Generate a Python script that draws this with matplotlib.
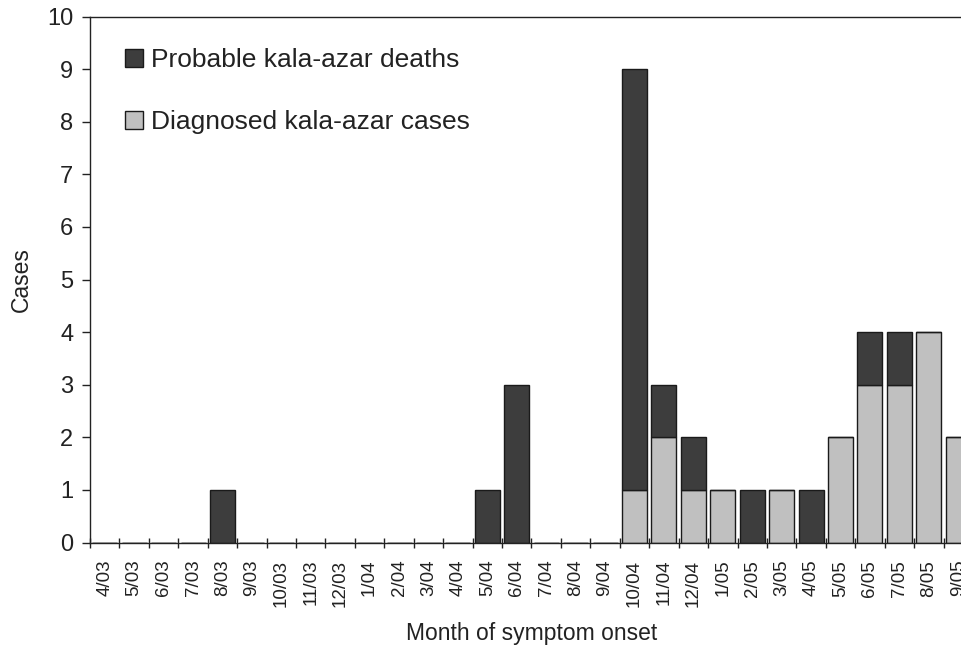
import matplotlib
matplotlib.use("Agg")
import matplotlib.pyplot as plt
from matplotlib.patches import Patch
import numpy as np

plt.rcParams['font.family'] = ['Liberation Sans', 'DejaVu Sans']

months = ["4/03", "5/03", "6/03", "7/03", "8/03", "9/03", "10/03", "11/03", "12/03",
          "1/04", "2/04", "3/04", "4/04", "5/04", "6/04", "7/04", "8/04", "9/04",
          "10/04", "11/04", "12/04", "1/05", "2/05", "3/05", "4/05", "5/05", "6/05",
          "7/05", "8/05", "9/05"]
diagnosed = [0, 0, 0, 0, 0, 0, 0, 0, 0, 0, 0, 0, 0, 0, 0, 0, 0, 0,
             1, 2, 1, 1, 0, 1, 0, 2, 3, 3, 4, 2]
deaths = [0, 0, 0, 0, 1, 0, 0, 0, 0, 0, 0, 0, 0, 1, 3, 0, 0, 0,
          8, 1, 1, 0, 1, 0, 1, 0, 1, 1, 0, 0]

dark = "#3d3d3d"
light = "#c0c0c0"
edge = "#1a1a1a"

fig = plt.figure(figsize=(9.62, 6.49), dpi=100)
ax = fig.add_axes([90/962, (649-542.5)/649, 883/962, 526/649])

x = np.arange(len(months))
d = np.array(diagnosed)
k = np.array(deaths)
ax.bar(x, d, width=0.85, color=light, edgecolor=edge, linewidth=1.0, zorder=2)
ax.bar(x, k, bottom=d, width=0.85, color=dark, edgecolor=edge, linewidth=1.0, zorder=2)

ax.set_xlim(-0.5, len(months) - 0.5)
ax.set_ylim(0, 10)
ax.set_yticks(range(0, 11))
ax.tick_params(axis='y', labelsize=17, length=6, width=1, direction='out', pad=6,
               colors='#222222')

ax.set_xticks(x)
ax.set_xticklabels(months, rotation=90, fontsize=13.5)
ax.tick_params(axis='x', length=0, pad=12.5, colors='#222222')
ax.set_xticks(np.arange(-0.5, len(months), 1), minor=True)
ax.tick_params(axis='x', which='minor', length=7, width=1, direction='inout', color='#222222')

for s in ['left', 'top', 'bottom', 'right']:
    ax.spines[s].set_linewidth(1.0)
    ax.spines[s].set_color('#222222')

ax.set_ylabel("Cases", fontsize=16.5, labelpad=10, color='#222222')
ax.set_xlabel("Month of symptom onset", fontsize=16.5, labelpad=11, color='#222222')

handles = [Patch(facecolor=dark, edgecolor=edge, label="Probable kala-azar deaths"),
           Patch(facecolor=light, edgecolor=edge, label="Diagnosed kala-azar cases")]
leg = ax.legend(handles=handles, loc='upper left', bbox_to_anchor=(35/883, (542.5-48)/526),
                frameon=False, fontsize=19, handlelength=0.68, handleheight=0.68,
                handletextpad=0.3, labelspacing=1.45, borderpad=0, borderaxespad=0)
for t in leg.get_texts():
    t.set_color('#222222')

fig.savefig("out.png", dpi=100)
